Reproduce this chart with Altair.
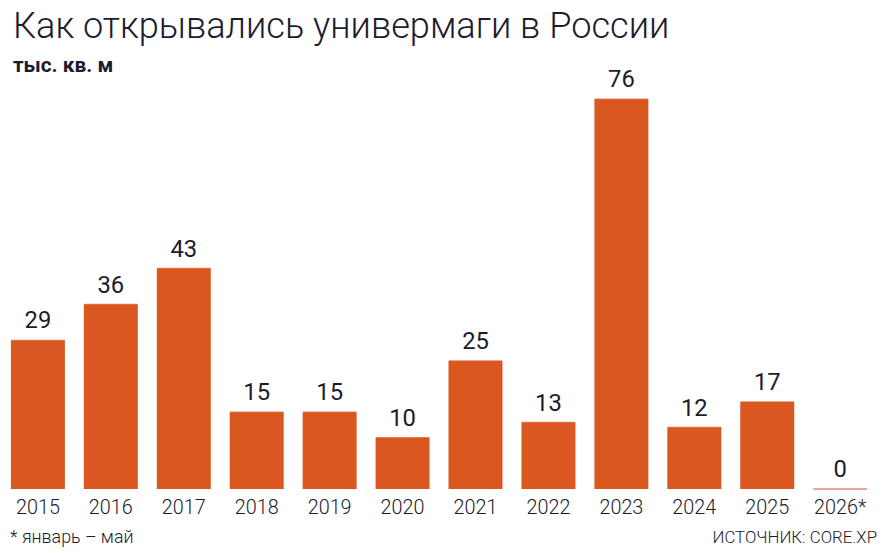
import altair as alt
import pandas as pd

years = ["2015", "2016", "2017", "2018", "2019", "2020", "2021", "2022", "2023", "2024", "2025", "2026*"]
values = [29, 36, 43, 15, 15, 10, 25, 13, 76, 12, 17, 0]

title_text = "Как открывались универмаги в России"
subtitle_text = "тыс. кв. м"
note_left = "* январь – май"
note_right = "ИСТОЧНИК: CORE.XP"

BAR = "#DB5720"
INK = "#1C1C2E"
FONT = "Roboto, sans-serif"
LIGHT = "Roboto Light, Roboto, sans-serif"

df = pd.DataFrame({"year": years, "value": values})

x = alt.X("year:N", sort=years,
          scale=alt.Scale(paddingInner=0.26, paddingOuter=0.04),
          axis=alt.Axis(title=None, labelAngle=0, domain=False, ticks=False,
                        labelFontSize=20, labelFont=LIGHT, labelColor=INK,
                        labelPadding=9, labelFontWeight=300))
y = alt.Y("value:Q", scale=alt.Scale(domain=[0, 80], nice=False),
          axis=None)

base = alt.Chart(df)
bars = base.mark_bar(color=BAR).encode(x=x, y=y)
zero = base.mark_tick(color=BAR, thickness=1.5, orient="horizontal",
                      size=54).encode(x=x, y=y)
labels = base.mark_text(baseline="bottom", dy=-7, fontSize=24, font=FONT,
                        color=INK, fontWeight="normal").encode(x=x, y=y, text="value:Q")

notes = pd.DataFrame({"t": [note_left, note_right], "pos": ["l", "r"]})
note_l = alt.Chart(notes[notes.pos == "l"]).mark_text(
    align="left", baseline="alphabetic", fontSize=18, font=LIGHT, color=INK,
    fontWeight=300).encode(x=alt.value(2), y=alt.value(468), text="t:N")
note_r = alt.Chart(notes[notes.pos == "r"]).mark_text(
    align="right", baseline="alphabetic", fontSize=17, font=LIGHT, color=INK,
    fontWeight=300).encode(x=alt.value(877), y=alt.value(468), text="t:N")

chart = alt.layer(bars, zero, labels, note_l, note_r).properties(
    width=870, height=414,
    autosize=alt.AutoSizeParams(type="none"),
    padding={"left": 0, "top": 69, "right": 10, "bottom": 62},
    title=alt.TitleParams(
        text=title_text, subtitle=subtitle_text, anchor="start",
        font=LIGHT, fontSize=36.5, fontWeight=300, color=INK,
        subtitleFont=FONT, subtitleFontSize=21, subtitleFontWeight="bold",
        subtitleColor=INK, subtitlePadding=9, offset=2, dx=5, dy=9),
).configure_view(stroke=None)

chart.save("out.html", embed_options={"renderer": "svg", "actions": False})
